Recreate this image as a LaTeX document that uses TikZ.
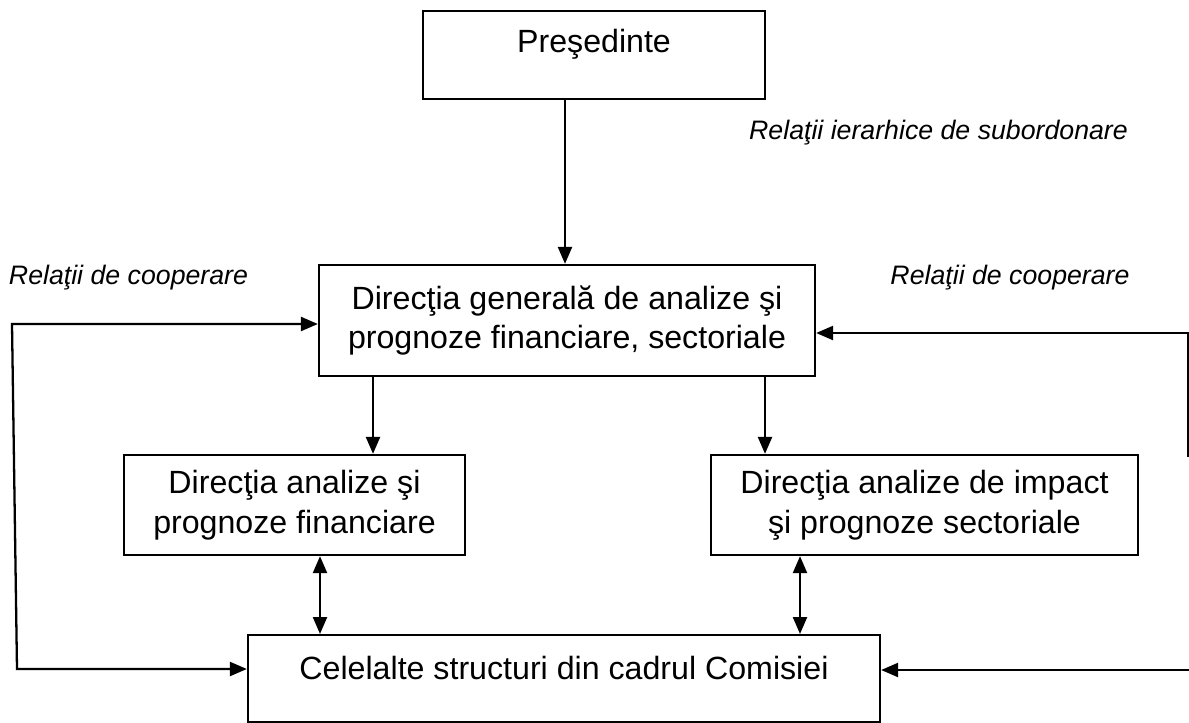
\documentclass[tikz,border=0pt]{standalone}
\usepackage{fontspec}
\setmainfont{Liberation Sans}
\usepackage{tikz}
\usetikzlibrary{arrows.meta}
\usetikzlibrary{positioning}

\begin{document}
\begin{tikzpicture}[-,line width=1.3pt,
			main box/.style={rectangle,draw,inner sep=0pt,align=center,
				font=\fontsize{18.3}{22.6}\selectfont},
			note text/.style={inner sep=0pt,font=\fontsize{15.2}{18}\selectfont\itshape},
			arr/.style={-{Triangle[length=0.34cm,width=0.28cm]}},
			dbl/.style={{Triangle[length=0.34cm,width=0.28cm]}-{Triangle[length=0.34cm,width=0.28cm]}}]
			\useasboundingbox (0,0) rectangle (23.78,-14.46);
			
			\node[main box,minimum width=6.84cm,text height=0.83cm,text depth=0.93cm,anchor=north] (pres) at (11.88,-0.2) {Preşedinte};
			\node[main box,minimum width=9.92cm,minimum height=2.22cm] (gen) at (11.34,-6.41) {Direcţia generală de analize şi\\prognoze financiare, sectoriale};
			\node[main box,minimum width=6.82cm,minimum height=2.0cm] (fin) at (5.89,-10.1) {Direcţia analize şi\\prognoze financiare};
			\node[main box,minimum width=8.54cm,minimum height=2.0cm] (imp) at (18.49,-10.1) {Direcţia analize de impact\\şi prognoze sectoriale};
			\node[main box,minimum width=12.64cm,text height=0.89cm,text depth=0.85cm,anchor=north] (rest) at (11.28,-12.68) {Celelalte structuri din cadrul Comisiei};
			
			\node[note text] (ierarh) at (18.77,-2.66) {Relaţii ierarhice de subordonare};
			\node[note text] (coopL) at (2.57,-5.56) {Relaţii de cooperare};
			\node[note text] (coopR) at (20.2,-5.56) {Relaţii de cooperare};
			
			\coordinate (lt) at (0.24,-6.48);
			\coordinate (lb) at (0.34,-13.38);
			\coordinate (rt) at (23.76,-6.66);
			\coordinate (rm) at (23.76,-9.14);
			\coordinate (rb) at (23.8,-13.4);
			
			\draw[arr] ([xshift=-0.04cm]gen.north |- pres.south) -- ([xshift=-0.04cm]gen.north);
			\draw[arr] ([xshift=1.57cm]fin.north |- gen.south) -- ([xshift=1.57cm]fin.north);
			\draw[arr] ([xshift=-3.19cm]imp.north |- gen.south) -- ([xshift=-3.19cm]imp.north);
			\draw[dbl] ([xshift=0.51cm]fin.south) -- ([xshift=0.51cm]fin.south |- rest.north);
			\draw[dbl] ([xshift=-2.49cm]imp.south) -- ([xshift=-2.49cm]imp.south |- rest.north);
			\draw[dbl] (gen.west |- lt) -- (lt) -- (lb) -- (rest.west |- lb);
			\draw[arr] (rm) -- (rt) -- (gen.east |- rt);
			\draw[arr] (rb) -- (rest.east |- rb);
		\end{tikzpicture}
\end{document}
